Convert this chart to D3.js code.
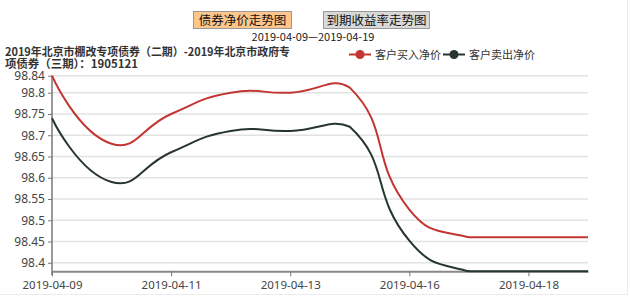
<!DOCTYPE html>
<html><head><meta charset="utf-8">
<script src="https://cdn.jsdelivr.net/npm/d3@7/dist/d3.min.js"></script>
<style>
body{margin:0;background:#fff;}
svg{display:block;font-family:"Noto Sans CJK SC","Noto Sans",sans-serif;}
</style></head>
<body>
<svg id="chart" width="630" height="298"></svg>
<script>
// ---- data ----
const dates = ["2019-04-09","2019-04-10","2019-04-11","2019-04-12","2019-04-13","2019-04-15","2019-04-16","2019-04-17","2019-04-18","2019-04-19"];
const buyPrice  = [98.84, 98.68, 98.75, 98.80, 98.80, 98.812, 98.525, 98.46, 98.46, 98.46];
const sellPrice = [98.74, 98.59, 98.66, 98.71, 98.71, 98.72, 98.452, 98.38, 98.38, 98.38];
const yTicks = [98.4, 98.45, 98.5, 98.55, 98.6, 98.65, 98.7, 98.75, 98.8, 98.84];
const xTickDates = ["2019-04-09","2019-04-11","2019-04-13","2019-04-16","2019-04-18"];
const seriesNames = ["客户买入净价","客户卖出净价"];
const titleLines = ["2019年北京市棚改专项债券（二期）-2019年北京市政府专","项债券（三期）：1905121"];
const buttonLabels = ["债券净价走势图","到期收益率走势图"];
const dateRange = "2019-04-09—2019-04-19";

const colors = ["#c23531","#26362f"];
const svg = d3.select("#chart");

// container border
svg.append("line").attr("x1",0).attr("x2",627).attr("y1",294.5).attr("y2",294.5).attr("stroke","#ececec");
svg.append("line").attr("x1",627.5).attr("x2",627.5).attr("y1",0).attr("y2",295).attr("stroke","#ececec");

// buttons
const btns = [{x:193,w:98,fill:"#ffc68c",stroke:"#999"},{x:323,w:106,fill:"#d9d9d9",stroke:"#999"}];
btns.forEach((b,i)=>{
  svg.append("rect").attr("x",b.x+0.5).attr("y",11.5).attr("width",b.w).attr("height",17)
    .attr("fill",b.fill).attr("stroke",b.stroke);
  svg.append("text").attr("x",b.x+b.w/2+0.5).attr("y",24.5).attr("text-anchor","middle")
    .attr("font-size",12.5).attr("fill","#111").text(buttonLabels[i]);
});
svg.append("text").attr("x",313).attr("y",41).attr("text-anchor","middle")
  .attr("font-size",11).attr("fill","#222").text(dateRange);

// title
const titleLens=[285,133];
titleLines.forEach((t,i)=>{
  svg.append("text").attr("x",5).attr("y",56+i*11.5).attr("font-size",11.5)
    .attr("font-weight","bold").attr("fill","#333")
    .attr("textLength",titleLens[i]).attr("lengthAdjust","spacingAndGlyphs").text(t);
});

// scales
const x = d3.scalePoint().domain(dates).range([52,588]);
const y = d3.scaleLinear().domain([98.38,98.84]).range([271.3,75.7]);

// grid
svg.append("g").selectAll("line").data(yTicks).join("line")
  .attr("x1",52).attr("x2",588).attr("y1",d=>y(d)).attr("y2",d=>y(d))
  .attr("stroke","#e2e2e2").attr("stroke-width",1.5);

// y axis
const yAxis = d3.axisLeft(y).tickValues(yTicks).tickSize(4).tickFormat(d=>String(+d.toFixed(2)));
const gy = svg.append("g").attr("transform","translate(52,0)").call(yAxis);
gy.select(".domain").attr("stroke","#777").attr("stroke-width",1.5).attr("d","M0,"+y(98.84)+"V"+(y(98.38)+4));
gy.selectAll(".tick line").attr("stroke","#777");
gy.selectAll(".tick text").attr("font-size",12).attr("fill","#444").attr("font-family","'Noto Sans','Open Sans',sans-serif");

// x axis
const xAxis = d3.axisBottom(x).tickValues(xTickDates).tickSize(5).tickSizeOuter(0);
const gx = svg.append("g").attr("transform","translate(0,"+y(98.38)+")").call(xAxis);
gx.select(".domain").attr("stroke","#888").attr("stroke-width",2);
gx.selectAll(".tick line").attr("stroke","#777");
gx.selectAll(".tick text").attr("font-size",11.5).attr("fill","#444").attr("dy","0.85em")
  .attr("font-family","'Noto Sans','Open Sans',sans-serif");

// ECharts-style smooth curve (smooth 0.5, constrained to bbox)
function EcSmooth(context){this._context=context;}
EcSmooth.prototype={
  areaStart(){},areaEnd(){},
  lineStart(){this._pts=[];},
  point(px,py){this._pts.push([+px,+py]);},
  lineEnd(){
    const p=this._pts, c=this._context, s=0.5, n=p.length;
    if(!n) return;
    const minX=d3.min(p,d=>d[0]),maxX=d3.max(p,d=>d[0]),minY=d3.min(p,d=>d[1]),maxY=d3.max(p,d=>d[1]);
    const clamp=q=>[Math.min(Math.max(q[0],minX),maxX),Math.min(Math.max(q[1],minY),maxY)];
    c.moveTo(p[0][0],p[0][1]);
    let cp0=p[0].slice();
    for(let i=1;i<n;i++){
      const pt=p[i]; let cp1, v=[0,0], ratio=0.5;
      if(i===n-1){cp1=pt.slice();}
      else{
        const prev=p[i-1], next=p[i+1];
        v=[next[0]-prev[0],next[1]-prev[1]];
        const d0=Math.hypot(pt[0]-prev[0],pt[1]-prev[1]);
        const d1=Math.hypot(pt[0]-next[0],pt[1]-next[1]);
        ratio=d1/(d0+d1);
        cp1=[pt[0]-v[0]*s*(1-ratio),pt[1]-v[1]*s*(1-ratio)];
      }
      const a=clamp(cp0), b=clamp(cp1);
      c.bezierCurveTo(a[0],a[1],b[0],b[1],pt[0],pt[1]);
      cp0=[pt[0]+v[0]*s*ratio,pt[1]+v[1]*s*ratio];
    }
  }
};
const ecCurve = ctx=>new EcSmooth(ctx);

const series=[buyPrice,sellPrice];
series.forEach((vals,k)=>{
  const line=d3.line().x((d,i)=>x(dates[i])).y(d=>y(d)).curve(ecCurve);
  svg.append("path").datum(vals).attr("d",line).attr("fill","none")
    .attr("stroke",colors[k]).attr("stroke-width",2);
});

// legend
const legX=[349,443];
seriesNames.forEach((nm,k)=>{
  const g=svg.append("g").attr("transform","translate("+legX[k]+",54.5)");
  g.append("line").attr("x1",0).attr("x2",22).attr("stroke",colors[k]).attr("stroke-width",2);
  g.append("circle").attr("cx",11).attr("r",4.5).attr("fill",colors[k]);
  g.append("text").attr("x",26).attr("y",4).attr("font-size",11).attr("fill","#333").text(nm);
});
</script>
</body></html>
